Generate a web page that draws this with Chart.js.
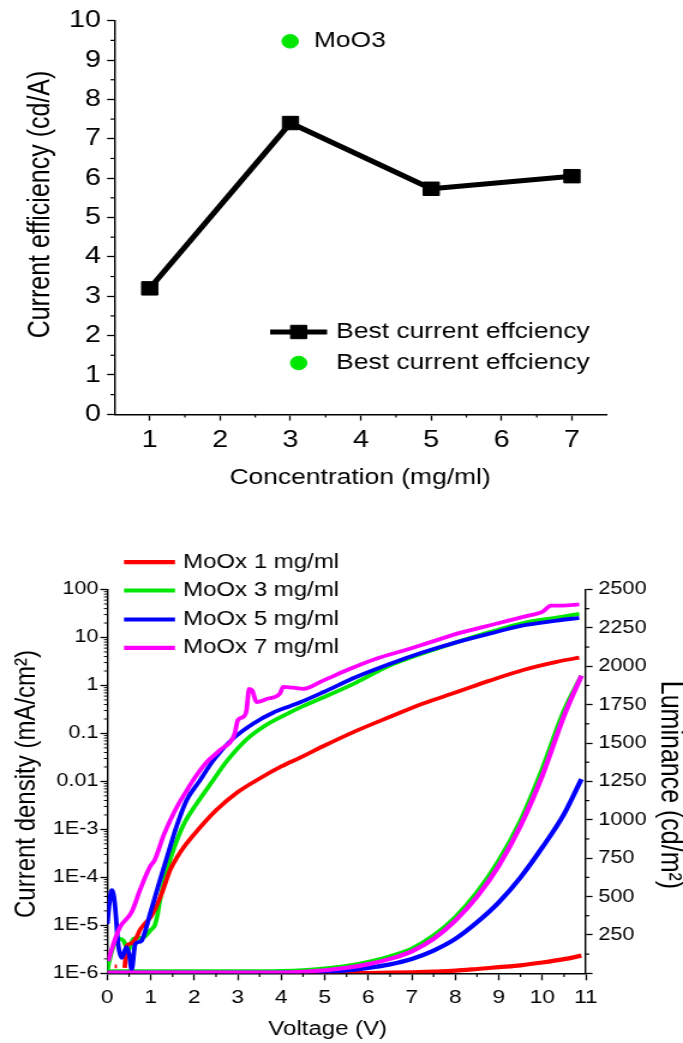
<!DOCTYPE html>
<html>
<head>
<meta charset="utf-8">
<script src="https://cdn.jsdelivr.net/npm/chart.js@4.4.1/dist/chart.umd.min.js"></script>
<style>
  html, body { margin:0; padding:0; background:#fff; width:683px; height:1043px; overflow:hidden; }
  canvas { position:absolute; left:0; }
</style>
</head>
<body>
<canvas id="c1" width="569" height="520" style="top:0px;width:683px;height:520px;"></canvas>
<canvas id="c2" width="569" height="523" style="top:520px;width:683px;height:523px;"></canvas>
<script>
// ================= DATA =================
// Top chart
const concentration   = [1, 3, 5, 7];
const bestEfficiency  = [3.2, 7.4, 5.73, 6.05];
const concTicks       = [1, 2, 3, 4, 5, 6, 7];
const concMinorTicks  = [1.5, 2.5, 3.5, 4.5, 5.5, 6.5];
const effMinorTicks   = [0.5, 1.5, 2.5, 3.5, 4.5, 5.5, 6.5, 7.5, 8.5, 9.5];
const effLegendLabel  = 'Best current effciency';
const annotationLabel = 'MoO3';

// Bottom chart
const seriesNames = ['MoOx 1 mg/ml', 'MoOx 3 mg/ml', 'MoOx 5 mg/ml', 'MoOx 7 mg/ml'];

// current density (mA/cm2) vs voltage (V)
const v1J = [0.17, 0.22, 0.30, 0.40, 0.45, 0.55, 0.67, 0.75, 0.83, 1.00, 1.10, 1.25, 1.44, 1.60, 1.76, 2.00, 2.50, 3.00, 3.50, 4.00, 4.42, 4.96, 5.72, 6.49, 7.26, 8.02, 8.79, 9.56, 10.33, 10.85];
const j1  = [1.4e-6, 1.4e-6, null, 1.3e-6, 3.8e-6, 4.2e-6, 5.6e-6, 8e-6, 1.0e-5, 1.5e-5, 2.2e-5, 4.6e-5, 1.4e-4, 2.6e-4, 4.3e-4, 8.0e-4, 2.5e-3, 6.0e-3, 0.0115, 0.0205, 0.031, 0.054, 0.113, 0.22, 0.42, 0.72, 1.26, 2.1, 3.1, 3.8];

const v3J = [0, 0.03, 0.27, 0.37, 0.48, 0.60, 0.70, 0.83, 1.00, 1.09, 1.15, 1.21, 1.36, 1.55, 1.78, 2.05, 2.43, 2.74, 3.20, 3.65, 4.11, 4.50, 4.96, 5.72, 6.49, 7.26, 8.02, 8.79, 9.56, 10.33, 10.85];
const j3  = [1.1e-6, 1.6e-6, 5.3e-6, 4.8e-6, 3.0e-6, 5.2e-6, 5.4e-6, 5.6e-6, 8e-6, 1.0e-5, 1.6e-5, 3.3e-5, 1.3e-4, 4.5e-4, 1.4e-3, 3.4e-3, 0.0105, 0.026, 0.075, 0.15, 0.25, 0.37, 0.56, 1.15, 2.6, 4.7, 7.9, 12.9, 20, 26, 31];

const v5J = [0, 0.05, 0.10, 0.14, 0.18, 0.25, 0.33, 0.44, 0.50, 0.56, 0.64, 0.72, 0.79, 0.88, 0.98, 1.21, 1.40, 1.59, 1.82, 2.13, 2.43, 2.89, 3.35, 3.81, 4.20, 4.42, 4.96, 5.72, 6.49, 7.26, 8.02, 8.79, 9.56, 10.33, 10.85];
const j5  = [1.07e-5, 3e-5, 5.4e-5, 4.5e-5, 2.4e-5, 4e-6, 2.1e-6, 3.5e-6, 2.5e-6, 1.2e-6, 4e-6, 4.5e-6, 4.8e-6, 8e-6, 1.7e-5, 8.7e-5, 3.2e-4, 1.15e-3, 4.0e-3, 0.0105, 0.027, 0.078, 0.16, 0.27, 0.37, 0.44, 0.72, 1.5, 2.8, 4.9, 7.9, 12, 17.8, 22.4, 25.7];

const v7J = [0.02, 0.14, 0.29, 0.56, 0.75, 0.98, 1.09, 1.29, 1.44, 1.63, 1.82, 1.97, 2.28, 2.59, 2.93, 3.00, 3.12, 3.20, 3.26, 3.33, 3.43, 3.66, 3.97, 4.04, 4.27, 4.50, 4.96, 5.57, 6.18, 6.95, 7.41, 8.17, 8.94, 9.70, 10.00, 10.20, 10.46, 10.85];
const j7  = [1.8e-6, 4.1e-6, 9.1e-6, 1.9e-5, 5.4e-5, 1.66e-4, 2.3e-4, 7.3e-4, 1.5e-3, 3.3e-3, 6.3e-3, 0.0105, 0.025, 0.045, 0.1, 0.19, 0.22, 0.3, 0.85, 0.79, 0.45, 0.52, 0.68, 0.93, 0.9, 0.85, 1.26, 2.2, 3.6, 5.8, 7.9, 12.9, 19.3, 28.8, 34, 46, 46, 49];

// luminance (cd/m2) vs voltage (V)
const vL   = [0, 1, 2, 3, 4, 4.5, 5, 5.5, 6, 6.5, 7, 7.5, 8, 8.5, 9, 9.5, 10, 10.5, 10.9];
const lum1 = [1, 1, 1, 1, 1, 1, 1, 1, 2, 4, 7, 11, 17, 28, 40, 52, 70, 92, 115];
const lum3 = [12, 12, 12, 12, 14, 19, 30, 47, 73, 110, 160, 245, 365, 527, 733, 994, 1330, 1710, 1938];
const lum5 = [3, 3, 3, 3, 3, 4, 8, 18, 35, 58, 93, 148, 224, 332, 462, 625, 820, 1037, 1265];
const lum7 = [4, 4, 4, 4, 5, 10, 20, 36, 60, 94, 143, 224, 343, 499, 701, 961, 1287, 1677, 1938];

const voltMinorTicks = [0.5,1.5,2.5,3.5,4.5,5.5,6.5,7.5,8.5,9.5,10.5];
const jTickValues = [1e-6, 1e-5, 1e-4, 1e-3, 0.01, 0.1, 1, 10, 100];
const jTickLabels = ['1E-6', '1E-5', '1E-4', '1E-3', '0.01', '0.1', '1', '10', '100'];
const jMinorTicks = [];
for (let e = -6; e <= 1; e++) for (let m = 2; m <= 9; m++) jMinorTicks.push(m * Math.pow(10, e));
const lumMinorTicks = [125,375,625,875,1125,1375,1625,1875,2125,2375];

// ================= STYLE =================
const FONT = "'Liberation Sans', Arial, Helvetica, sans-serif";
const RED = '#ff0000', GREEN = '#00e600', BLUE = '#0000ff', MAGENTA = '#ff00ff';
Chart.defaults.font.family = FONT;
Chart.defaults.color = '#000';

const pts = (xs, ys) => xs.map((x, i) => ({x, y: ys[i]}));

const decor = {
  id: 'decor',
  afterDraw(chart, args, o) {
    const ctx = chart.ctx;
    ctx.save();
    for (const m of (o.minor || [])) {
      const s = chart.scales[m.axis];
      ctx.strokeStyle = '#000'; ctx.lineWidth = m.width || 1.2;
      for (const v of m.values) {
        const p = s.getPixelForValue(v);
        ctx.beginPath();
        if (s.isHorizontal()) { ctx.moveTo(p, s.top); ctx.lineTo(p, s.top + m.len); }
        else if (s.position === 'left') { ctx.moveTo(s.right, p); ctx.lineTo(s.right - m.len, p); }
        else { ctx.moveTo(s.left, p); ctx.lineTo(s.left + m.len, p); }
        ctx.stroke();
      }
    }
    for (const e of (o.legend || [])) {
      const ds = chart.data.datasets[e.dataset];
      if (e.line) {
        ctx.strokeStyle = ds.borderColor; ctx.lineWidth = e.lineWidth;
        ctx.beginPath(); ctx.moveTo(e.line[0], e.y); ctx.lineTo(e.line[1], e.y); ctx.stroke();
      }
      if (e.marker !== undefined) drawMarker(ctx, ds.pointStyle, e.marker, e.y, ds.pointRadius, ds.pointBackgroundColor);
      ctx.fillStyle = '#000'; ctx.font = e.size + 'px ' + FONT;
      ctx.textAlign = 'left'; ctx.textBaseline = 'middle';
      ctx.fillText(ds.label, e.textX, e.y);
    }
    for (const a of (o.marks || [])) drawMarker(ctx, a.style, a.x, a.y, a.r, a.color);
    for (const t of (o.texts || [])) {
      ctx.save();
      ctx.translate(t.x, t.y); ctx.rotate((t.rot || 0) * Math.PI / 180);
      ctx.font = t.size + 'px ' + FONT; ctx.fillStyle = '#000';
      ctx.textAlign = t.align || 'center'; ctx.textBaseline = 'middle';
      ctx.fillText(t.text, 0, 0);
      ctx.restore();
    }
    ctx.restore();
  }
};
function drawMarker(ctx, style, x, y, r, color) {
  ctx.fillStyle = color; ctx.strokeStyle = color; ctx.lineWidth = 1;
  ctx.beginPath();
  if (style === 'rect') { const s = Math.SQRT1_2 * r; ctx.rect(x - s, y - s, 2 * s, 2 * s); }
  else ctx.arc(x, y, r, 0, Math.PI * 2);
  ctx.fill(); ctx.stroke();
}

const baseOpts = {
  responsive: false, maintainAspectRatio: false, animation: false, events: [],
};
const gridOpt = (len) => ({display: true, drawOnChartArea: false, drawTicks: true, tickLength: len, tickWidth: 1.3, tickColor: '#000'});
const borderOpt = (w) => ({display: true, color: '#000', width: w});

// ================= TOP CHART =================
const W = 569;
const CA1 = {left: 95.4, right: 505.8, top: 20.7, bottom: 414.3};
new Chart(document.getElementById('c1'), {
  type: 'line',
  data: {
    datasets: [
      { label: effLegendLabel, data: pts(concentration, bestEfficiency), borderColor: '#000', backgroundColor: '#000',
        borderWidth: 5, borderJoinStyle: 'round', pointStyle: 'rect', pointRadius: 9.5,
        pointBackgroundColor: '#000', pointBorderColor: '#000', pointBorderWidth: 1, tension: 0 },
      { label: effLegendLabel, data: [], borderColor: GREEN, backgroundColor: GREEN, showLine: false,
        pointStyle: 'circle', pointRadius: 6.8, pointBackgroundColor: GREEN }
    ]
  },
  options: {
    ...baseOpts,
    layout: {padding: {left: 0, top: CA1.top, right: W - CA1.right, bottom: 0}},
    scales: {
      x: { type: 'linear', min: 0.5, max: 7.5,
           afterBuildTicks: s => { s.ticks = concTicks.map(v => ({value: v})); },
           afterFit: s => { s.height = 520 - CA1.bottom; },
           ticks: {font: {size: 24}, padding: 5, maxRotation: 0, autoSkip: false},
           grid: gridOpt(6.3), border: borderOpt(1.6) },
      y: { type: 'linear', min: 0, max: 10,
           afterFit: s => { s.width = CA1.left; },
           ticks: {stepSize: 1, font: {size: 24}, padding: 5, autoSkip: false},
           grid: gridOpt(6.2), border: borderOpt(1.4) }
    },
    plugins: {
      legend: {display: false}, tooltip: {enabled: false},
      decor: {
        minor: [
          {axis: 'x', values: concMinorTicks, len: 3.2},
          {axis: 'y', values: effMinorTicks, len: 3.4}
        ],
        legend: [
          {dataset: 0, y: 332, line: [225, 272.5], lineWidth: 5, marker: 248.8, textX: 280, size: 22},
          {dataset: 1, y: 363, marker: 248.8, textX: 280, size: 22}
        ],
        marks: [{style: 'circle', x: 241.7, y: 41.3, r: 6.8, color: GREEN}],
        texts: [
          {text: annotationLabel, x: 261.5, y: 41.3, size: 22, align: 'left'},
          {text: 'Current efficiency (cd/A)', x: 34.2, y: 204.5, size: 25, rot: -90},
          {text: 'Concentration (mg/ml)', x: 300, y: 478, size: 22}
        ]
      }
    }
  },
  plugins: [decor]
});

// ================= BOTTOM CHART =================
const CA2 = {left: 89.4, right: 488.0, top: 69.5, bottom: 453.3};
const H2 = 523;
const jDs = (label, color, xs, ys, order) => ({ label, data: pts(xs, ys), yAxisID: 'y', borderColor: color, backgroundColor: color,
  borderWidth: 3.8, pointRadius: 0, cubicInterpolationMode: 'monotone', spanGaps: false, order });
const lDs = (label, color, xs, ys, order) => ({ label, data: pts(xs, ys), yAxisID: 'y2', borderColor: color, backgroundColor: color,
  borderWidth: 4.2, pointRadius: 0, cubicInterpolationMode: 'monotone', order });

new Chart(document.getElementById('c2'), {
  type: 'line',
  data: {
    datasets: [
      jDs(seriesNames[0], RED, v1J, j1, 2),
      jDs(seriesNames[1], GREEN, v3J, j3, 3),
      jDs(seriesNames[2], BLUE, v5J, j5, 1),
      jDs(seriesNames[3], MAGENTA, v7J, j7, 0),
      lDs(seriesNames[0], RED, vL, lum1, 2),
      lDs(seriesNames[1], GREEN, vL, lum3, 3),
      lDs(seriesNames[2], BLUE, vL, lum5, 1),
      lDs(seriesNames[3], MAGENTA, vL, lum7, 0)
    ]
  },
  options: {
    ...baseOpts,
    layout: {padding: {left: 0, top: CA2.top, right: 0, bottom: 0}},
    scales: {
      x: { type: 'linear', min: 0, max: 11,
           afterFit: s => { s.height = H2 - CA2.bottom; },
           ticks: {stepSize: 1, font: {size: 19}, padding: 6.5, maxRotation: 0, autoSkip: false},
           grid: gridOpt(7), border: borderOpt(1.6) },
      y: { type: 'logarithmic', position: 'left', min: 1e-6, max: 100,
           afterBuildTicks: s => { s.ticks = jTickValues.map(v => ({value: v})); },
           afterFit: s => { s.width = CA2.left; },
           ticks: {font: {size: 18}, padding: 1.5, autoSkip: false, callback: (v, i) => jTickLabels[i]},
           grid: gridOpt(5.8), border: borderOpt(1.4) },
      y2: { type: 'linear', position: 'right', min: 0, max: 2500,
            afterFit: s => { s.width = W - CA2.right; },
            ticks: {stepSize: 250, font: {size: 18}, padding: 5, autoSkip: false, callback: v => v === 0 ? '' : String(v)},
            grid: gridOpt(5.6), border: borderOpt(1.4) }
    },
    plugins: {
      legend: {display: false}, tooltip: {enabled: false},
      decor: {
        minor: [
          {axis: 'x', values: voltMinorTicks, len: 3.6},
          {axis: 'y', values: jMinorTicks, len: 2.8, width: 1},
          {axis: 'y2', values: lumMinorTicks, len: 3}
        ],
        legend: [
          {dataset: 0, y: 42.2, line: [103.3, 145.8], lineWidth: 4.2, textX: 152.5, size: 20},
          {dataset: 1, y: 70.5, line: [103.3, 145.8], lineWidth: 4.2, textX: 152.5, size: 20},
          {dataset: 2, y: 99.5, line: [103.3, 145.8], lineWidth: 4.2, textX: 152.5, size: 20},
          {dataset: 3, y: 127.8, line: [103.3, 145.8], lineWidth: 4.2, textX: 152.5, size: 20}
        ],
        texts: [
          {text: 'Current density (mA/cm²)', x: 22.7, y: 264, size: 24, rot: -90},
          {text: 'Luminance (cd/m²)', x: 557.5, y: 265, size: 25, rot: 90},
          {text: 'Voltage (V)', x: 273, y: 509, size: 20}
        ]
      }
    }
  },
  plugins: [decor]
});
</script>
</body>
</html>
